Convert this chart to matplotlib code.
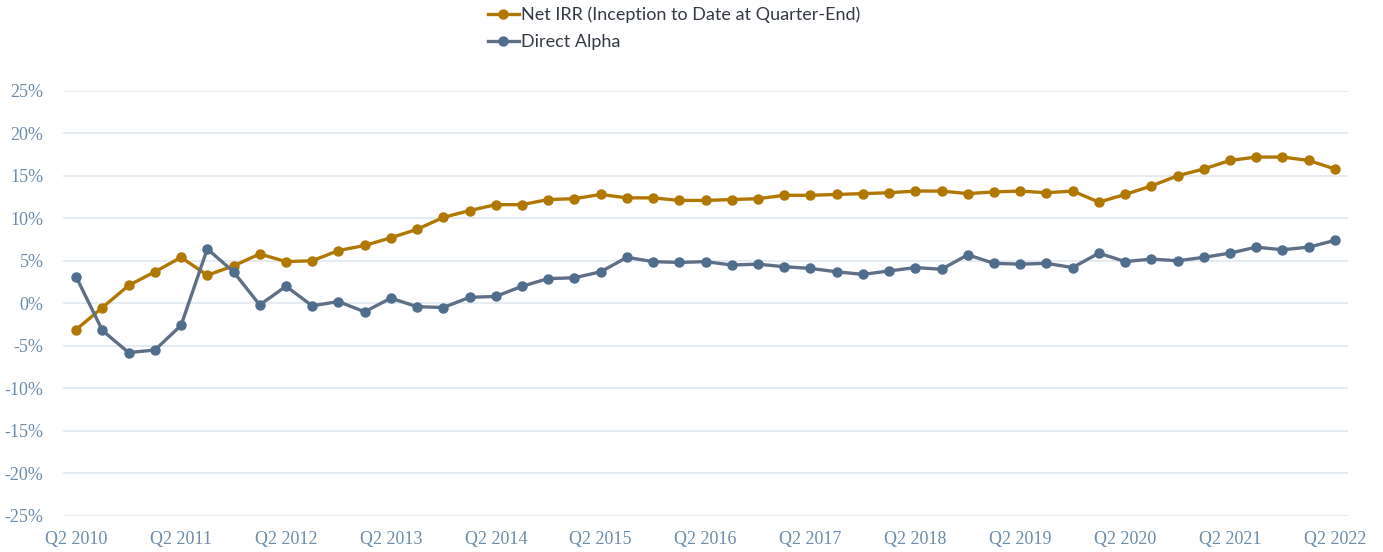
import matplotlib.pyplot as plt
from matplotlib.ticker import FuncFormatter

# quarters Q2 2010 .. Q2 2022
quarters = []
for y in range(2010, 2023):
    for q in (1, 2, 3, 4):
        if (y == 2010 and q < 2) or (y == 2022 and q > 2):
            continue
        quarters.append(f"Q{q} {y}")

net_irr = [-3.1, -0.5, 2.1, 3.7, 5.4, 3.3, 4.4, 5.8, 4.9, 5.0,
           6.2, 6.8, 7.7, 8.7, 10.1, 10.9, 11.6, 11.6, 12.2, 12.3,
           12.8, 12.4, 12.4, 12.1, 12.1, 12.2, 12.3, 12.7, 12.7, 12.8,
           12.9, 13.0, 13.2, 13.2, 12.9, 13.1, 13.2, 13.0, 13.2, 11.9,
           12.8, 13.8, 15.0, 15.8, 16.8, 17.2, 17.2, 16.8, 15.8]

direct_alpha = [3.1, -3.2, -5.8, -5.5, -2.6, 6.4, 3.7, -0.2, 2.0, -0.3,
                0.2, -1.0, 0.6, -0.4, -0.5, 0.7, 0.8, 2.0, 2.9, 3.0,
                3.7, 5.4, 4.9, 4.8, 4.9, 4.5, 4.6, 4.3, 4.1, 3.7,
                3.4, 3.8, 4.2, 4.0, 5.7, 4.7, 4.6, 4.7, 4.2, 5.9,
                4.9, 5.2, 5.0, 5.4, 5.9, 6.6, 6.3, 6.6, 7.4]

fig = plt.figure(figsize=(13.83, 5.52), dpi=100)
ax = fig.add_axes([0.0456, 0.0656, 0.9291, 0.77])

x = list(range(len(quarters)))
ax.plot(x, net_irr, color="#b07800", lw=2.4, marker="o", ms=6.5,
        label="Net IRR (Inception to Date at Quarter-End)")
ax.plot(x, direct_alpha, color="#5f6f86", lw=2.4, marker="o", ms=6.5,
        markerfacecolor="#4f6d8c", markeredgecolor="#4f6d8c",
        label="Direct Alpha")

ax.set_xlim(-0.5, len(quarters) - 0.5)
ax.set_ylim(-25, 25)
ax.set_yticks(range(-25, 26, 5))
ax.yaxis.set_major_formatter(FuncFormatter(lambda v, p: f"{v:.0f}%"))
ax.set_xticks(x[::4])
ax.set_xticklabels(quarters[::4])

ax.grid(axis="y", color="#dde5ee", lw=1.1)
ax.set_axisbelow(True)
for s in ax.spines.values():
    s.set_visible(False)
ax.tick_params(length=0, colors="#6b8cab", labelsize=13)
for lab in ax.get_xticklabels() + ax.get_yticklabels():
    lab.set_family("Liberation Serif")
ax.tick_params(axis="x", pad=11)
ax.tick_params(axis="y", pad=14)

# legend sits above the plot, entries stacked
leg = fig.legend(loc="upper left", bbox_to_anchor=(0.345, 1.008), frameon=False,
                 prop={"family": "Lato", "size": 13}, handlelength=1.7,
                 handletextpad=0.15, labelspacing=0.62, borderaxespad=0.2)
for t in leg.get_texts():
    t.set_color("#333a44")

fig.savefig("out.png", dpi=100)
